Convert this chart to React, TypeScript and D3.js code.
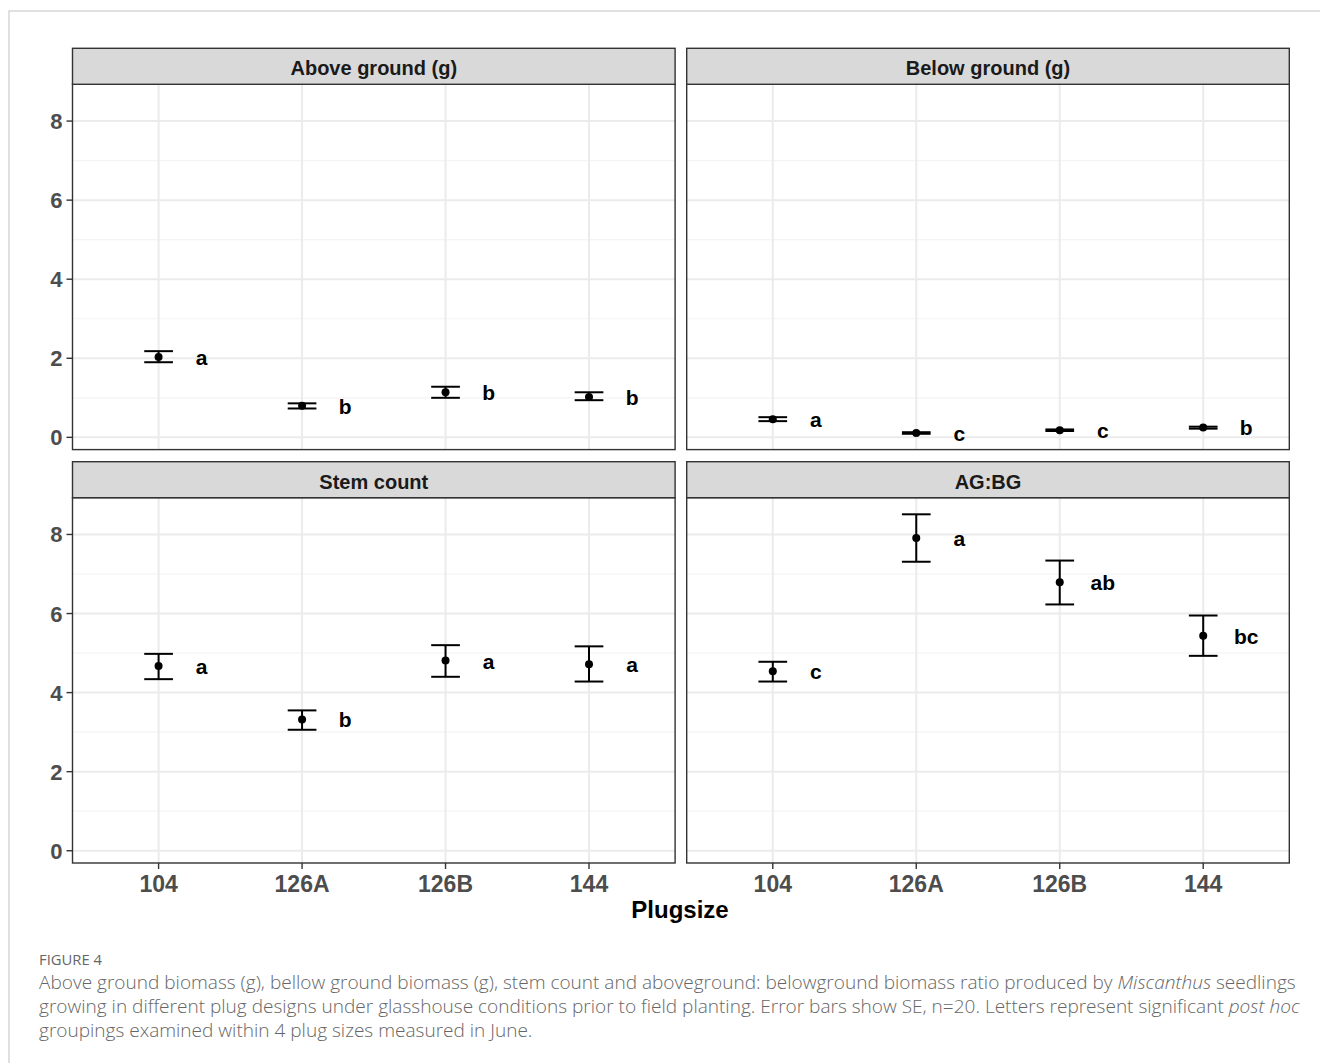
import React from "react";
import * as d3 from "d3";

const categories = ["104", "126A", "126B", "144"];
const panelTitles = ["Above ground (g)", "Below ground (g)", "Stem count", "AG:BG"];
const yTicks = [0, 2, 4, 6, 8];
const yMinorTicks = [1, 3, 5, 7];

const aboveMean = [2.03, 0.8, 1.14, 1.02];
const aboveLow = [1.9, 0.73, 1.0, 0.94];
const aboveHigh = [2.18, 0.86, 1.28, 1.14];
const aboveLetters = ["a", "b", "b", "b"];

const belowMean = [0.46, 0.11, 0.18, 0.25];
const belowLow = [0.41, 0.09, 0.16, 0.22];
const belowHigh = [0.51, 0.13, 0.2, 0.27];
const belowLetters = ["a", "c", "c", "b"];

const stemMean = [4.67, 3.32, 4.81, 4.72];
const stemLow = [4.34, 3.06, 4.4, 4.28];
const stemHigh = [4.98, 3.55, 5.2, 5.17];
const stemLetters = ["a", "b", "a", "a"];

const ratioMean = [4.54, 7.91, 6.79, 5.44];
const ratioLow = [4.28, 7.31, 6.23, 4.93];
const ratioHigh = [4.78, 8.51, 7.34, 5.95];
const ratioLetters = ["c", "a", "ab", "bc"];

const panelData = [
  { mean: aboveMean, low: aboveLow, high: aboveHigh, letters: aboveLetters },
  { mean: belowMean, low: belowLow, high: belowHigh, letters: belowLetters },
  { mean: stemMean, low: stemLow, high: stemHigh, letters: stemLetters },
  { mean: ratioMean, low: ratioLow, high: ratioHigh, letters: ratioLetters },
];

const W = 1320;
const H = 1063;
const colX = [72.5, 686.7];
const panelW = 602.6;
const rowStripTop = [48.3, 461.7];
const stripH = 36;
const panelH = 365.3;
const font = "'Liberation Sans', Arial, sans-serif";

function Panel({ idx }: { idx: number }) {
  const col = idx % 2;
  const row = Math.floor(idx / 2);
  const x0 = colX[col];
  const stripTop = rowStripTop[row];
  const top = stripTop + stripH;
  const bottom = top + panelH;
  const d = panelData[idx];

  const x = d3.scalePoint<string>().domain(categories).range([x0, x0 + panelW]).padding(0.6);
  const step = x.step();
  const y = d3.scaleLinear().domain([-0.31, 8.93]).range([bottom, top]);
  const capHalf = step * 0.1;

  return (
    <g>
      <rect x={x0} y={top} width={panelW} height={panelH} fill="#fff" />
      {yMinorTicks.map((t) => (
        <line key={"mn" + t} x1={x0} x2={x0 + panelW} y1={y(t)} y2={y(t)} stroke="#F4F4F4" strokeWidth={1.2} />
      ))}
      {yTicks.map((t) => (
        <line key={"mj" + t} x1={x0} x2={x0 + panelW} y1={y(t)} y2={y(t)} stroke="#EBEBEB" strokeWidth={2} />
      ))}
      {categories.map((c) => (
        <line key={"v" + c} x1={x(c)} x2={x(c)} y1={top} y2={bottom} stroke="#EBEBEB" strokeWidth={2} />
      ))}
      {categories.map((c, i) => {
        const cx = x(c) as number;
        return (
          <g key={"e" + c}>
            <line x1={cx} x2={cx} y1={y(d.low[i])} y2={y(d.high[i])} stroke="#000" strokeWidth={2} />
            <line x1={cx - capHalf} x2={cx + capHalf} y1={y(d.low[i])} y2={y(d.low[i])} stroke="#000" strokeWidth={2} />
            <line x1={cx - capHalf} x2={cx + capHalf} y1={y(d.high[i])} y2={y(d.high[i])} stroke="#000" strokeWidth={2} />
            <circle cx={cx} cy={y(d.mean[i])} r={4} fill="#000" />
            <text
              x={cx + step * 0.3}
              y={y(d.mean[i]) + 8}
              textAnchor="middle"
              fontFamily={font}
              fontWeight="bold"
              fontSize={21}
              fill="#000"
            >
              {d.letters[i]}
            </text>
          </g>
        );
      })}
      <rect x={x0} y={top} width={panelW} height={panelH} fill="none" stroke="#333" strokeWidth={1.4} />
      <rect x={x0} y={stripTop} width={panelW} height={stripH} fill="#D9D9D9" stroke="#333" strokeWidth={1.4} />
      <text
        x={x0 + panelW / 2}
        y={stripTop + stripH / 2 + 9}
        textAnchor="middle"
        fontFamily={font}
        fontWeight="bold"
        fontSize={20}
        fill="#1A1A1A"
      >
        {panelTitles[idx]}
      </text>
      {col === 0 &&
        yTicks.map((t) => (
          <g key={"yt" + t}>
            <line x1={x0 - 6} x2={x0} y1={y(t)} y2={y(t)} stroke="#333" strokeWidth={1.4} />
            <text
              x={x0 - 10}
              y={y(t) + 8}
              textAnchor="end"
              fontFamily={font}
              fontWeight="bold"
              fontSize={22}
              fill="#4D4D4D"
            >
              {t}
            </text>
          </g>
        ))}
      {row === 1 &&
        categories.map((c) => (
          <g key={"xt" + c}>
            <line x1={x(c)} x2={x(c)} y1={bottom} y2={bottom + 6} stroke="#333" strokeWidth={1.4} />
            <text
              x={x(c)}
              y={bottom + 29}
              textAnchor="middle"
              fontFamily={font}
              fontWeight="bold"
              fontSize={23}
              fill="#4D4D4D"
            >
              {c}
            </text>
          </g>
        ))}
    </g>
  );
}

export default function App() {
  const capFont = "'Open Sans', sans-serif";
  return (
    <svg
      width={W}
      height={H}
      style={{ position: "absolute", left: 0, top: 0, background: "#fff" }}
    >
      <rect x={0} y={0} width={W} height={H} fill="#fff" />
      <rect x={9} y={11} width={W + 20} height={H + 20} fill="none" stroke="#CCCCCC" strokeWidth={1.2} />
      {[0, 1, 2, 3].map((i) => (
        <Panel key={i} idx={i} />
      ))}
      <text x={680} y={918} textAnchor="middle" fontFamily={font} fontWeight="bold" fontSize={24} fill="#000">
        Plugsize
      </text>
      <text x={39} y={965} fontFamily={capFont} fontSize={14.8} fill="#666">
        FIGURE 4
      </text>
      <g fontFamily={capFont} fontSize={19.05} fontWeight={300} fill="#666">
        <text x={39} y={989}>
          Above ground biomass (g), bellow ground biomass (g), stem count and aboveground: belowground biomass ratio produced by{" "}
          <tspan fontStyle="italic">Miscanthus</tspan> seedlings
        </text>
        <text x={39} y={1013}>
          growing in different plug designs under glasshouse conditions prior to field planting. Error bars show SE, n=20. Letters represent significant{" "}
          <tspan fontStyle="italic">post hoc</tspan>
        </text>
        <text x={39} y={1037}>groupings examined within 4 plug sizes measured in June.</text>
      </g>
    </svg>
  );
}
